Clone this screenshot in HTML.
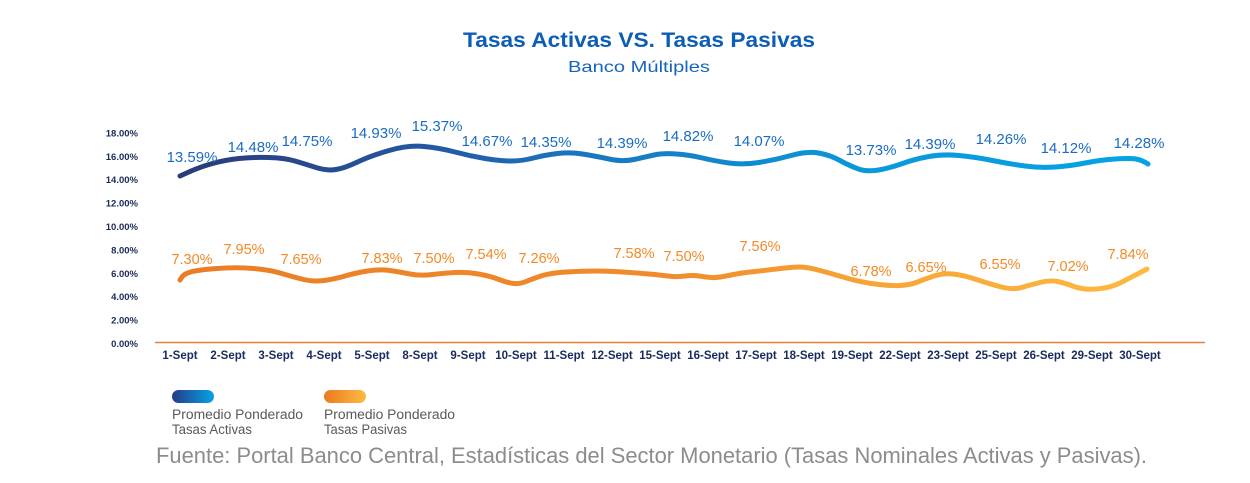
<!DOCTYPE html>
<html>
<head>
<meta charset="utf-8">
<style>
  html,body{margin:0;padding:0;background:#ffffff;}
  svg{display:block;}
  text{font-family:"Liberation Sans",Arial,sans-serif;}
</style>
</head>
<body>
<svg width="1250" height="483" viewBox="0 0 1250 483" xmlns="http://www.w3.org/2000/svg">
  <defs>
    <linearGradient id="gb" gradientUnits="userSpaceOnUse" x1="180" y1="0" x2="1148" y2="0">
      <stop offset="0" stop-color="#2a3b7a"/>
      <stop offset="0.25" stop-color="#2457a0"/>
      <stop offset="0.4" stop-color="#1a74bd"/>
      <stop offset="0.7" stop-color="#0a98da"/>
      <stop offset="1" stop-color="#05a3e4"/>
    </linearGradient>
    <linearGradient id="go" gradientUnits="userSpaceOnUse" x1="180" y1="0" x2="1147" y2="0">
      <stop offset="0" stop-color="#eb7d25"/>
      <stop offset="0.5" stop-color="#f08b2b"/>
      <stop offset="0.72" stop-color="#f7a535"/>
      <stop offset="1" stop-color="#fdb940"/>
    </linearGradient>
    <linearGradient id="lb" x1="0" y1="0" x2="1" y2="0">
      <stop offset="0" stop-color="#243c88"/>
      <stop offset="1" stop-color="#06a3e6"/>
    </linearGradient>
    <linearGradient id="lo" x1="0" y1="0" x2="1" y2="0">
      <stop offset="0" stop-color="#eb7a22"/>
      <stop offset="1" stop-color="#fdbb42"/>
    </linearGradient>
  </defs>

  <!-- Title -->
  <text x="639" y="47" text-anchor="middle" font-size="21" font-weight="bold" fill="#0b5db5" textLength="352" lengthAdjust="spacingAndGlyphs">Tasas Activas VS. Tasas Pasivas</text>
  <text x="639" y="72" text-anchor="middle" font-size="16" fill="#1565c0" textLength="142" lengthAdjust="spacingAndGlyphs">Banco Múltiples</text>

  <!-- Y axis labels -->
  <g font-size="9.5" font-weight="bold" fill="#1b2a5a" text-anchor="end">
    <text x="138" y="136.5">18.00%</text>
    <text x="138" y="160">16.00%</text>
    <text x="138" y="183">14.00%</text>
    <text x="138" y="206.5">12.00%</text>
    <text x="138" y="230">10.00%</text>
    <text x="138" y="253.5">8.00%</text>
    <text x="138" y="277">6.00%</text>
    <text x="138" y="300">4.00%</text>
    <text x="138" y="323.5">2.00%</text>
    <text x="138" y="347">0.00%</text>
  </g>

  <!-- X axis line -->
  <line x1="155" y1="342.5" x2="1205" y2="342.5" stroke="#ed7d31" stroke-width="1.5"/>

  <!-- X labels -->
  <g font-size="11.5" font-weight="bold" fill="#1b2a5a" text-anchor="middle">
    <text x="180" y="359">1-Sept</text>
    <text x="228" y="359">2-Sept</text>
    <text x="276" y="359">3-Sept</text>
    <text x="324" y="359">4-Sept</text>
    <text x="372" y="359">5-Sept</text>
    <text x="420" y="359">8-Sept</text>
    <text x="468" y="359">9-Sept</text>
    <text x="516" y="359">10-Sept</text>
    <text x="564" y="359">11-Sept</text>
    <text x="612" y="359">12-Sept</text>
    <text x="660" y="359">15-Sept</text>
    <text x="708" y="359">16-Sept</text>
    <text x="756" y="359">17-Sept</text>
    <text x="804" y="359">18-Sept</text>
    <text x="852" y="359">19-Sept</text>
    <text x="900" y="359">22-Sept</text>
    <text x="948" y="359">23-Sept</text>
    <text x="996" y="359">25-Sept</text>
    <text x="1044" y="359">26-Sept</text>
    <text x="1092" y="359">29-Sept</text>
    <text x="1140" y="359">30-Sept</text>
  </g>

  <!-- Blue line -->
  <path fill="none" stroke="url(#gb)" stroke-width="5" stroke-linecap="round" stroke-linejoin="round"
    d="M180,176 L190,171.5 Q200,167 212.5,163.5 Q225,160 239,158.5 Q253,157 269,157.5 Q285,158 295,161 Q305,164 316,167.5 Q327,171 336,169.5 Q345,168 357.5,162 Q370,156 389,150.5 Q408,145 424,146.5 Q440,148 455,152 Q470,156 485,158.5 Q500,161 511,161 Q522,161 533.5,158 Q545,155 557.5,153.5 Q570,152 582.5,154 Q595,156 609,159 Q623,162 634,159.5 Q645,157 654,155 Q663,153 676.5,154 Q690,155 702.5,158 Q715,161 729,163 Q743,165 759,162.5 Q775,160 791,155.5 Q807,151 818.5,153 Q830,155 840,160.5 Q850,166 858.5,169 Q867,172 878.5,170 Q890,168 902.5,163.5 Q915,159 929,156.5 Q943,154 959,155.5 Q975,157 992.5,160.5 Q1010,164 1025,166 Q1040,168 1055,167 Q1070,166 1085,163 Q1100,160 1115,159 Q1130,158 1136,159 Q1142,160 1148,164"/>

  <!-- Orange line -->
  <path fill="none" stroke="url(#go)" stroke-width="5" stroke-linecap="round" stroke-linejoin="round"
    d="M180,280 L182,277 Q184,274 190.5,272 Q197,270 217,268.5 Q237,267 253.5,268.5 Q270,270 280,273 Q290,276 301.5,279 Q313,282 324,280.5 Q335,279 345,276 Q355,273 367.5,271 Q380,269 390,270.5 Q400,272 410,274 Q420,276 432.5,274.5 Q445,273 456,272.5 Q467,272 478.5,274 Q490,276 499,279.5 Q508,283 514,283.5 Q520,284 526,281.5 Q532,279 541,276 Q550,273 566.5,272 Q583,271 596.5,271 Q610,271 630,272.5 Q650,274 659,275 Q668,276 672.5,276.5 Q677,277 685,276 Q693,275 699,276 Q705,277 711,277.5 Q717,278 728.5,275.5 Q740,273 750,272 Q760,271 776.5,269 Q793,267 800,267 Q807,267 820,270.5 Q833,274 846.5,278 Q860,282 875,284 Q890,286 900,285.5 Q910,285 917.5,282 Q925,279 934,276 Q943,273 953,274 Q963,275 976.5,279.5 Q990,284 1001.5,287 Q1013,290 1021.5,287.5 Q1030,285 1040,282.5 Q1050,280 1057.5,281.5 Q1065,283 1074,286.5 Q1083,290 1096.5,289 Q1110,288 1120,283 Q1130,278 1147,269"/>

  <!-- Blue data labels -->
  <g font-size="15" fill="#1a6cc2" text-anchor="middle">
    <text x="192" y="162">13.59%</text>
    <text x="253" y="152">14.48%</text>
    <text x="307" y="146">14.75%</text>
    <text x="376" y="138">14.93%</text>
    <text x="437" y="131">15.37%</text>
    <text x="487" y="146">14.67%</text>
    <text x="546" y="147">14.35%</text>
    <text x="622" y="148">14.39%</text>
    <text x="688" y="141">14.82%</text>
    <text x="759" y="146">14.07%</text>
    <text x="871" y="155">13.73%</text>
    <text x="930" y="149">14.39%</text>
    <text x="1001" y="144">14.26%</text>
    <text x="1066" y="153">14.12%</text>
    <text x="1139" y="148">14.28%</text>
  </g>

  <!-- Orange data labels -->
  <g font-size="14.5" fill="#f28a25" text-anchor="middle">
    <text x="192" y="264">7.30%</text>
    <text x="244" y="254">7.95%</text>
    <text x="301" y="264">7.65%</text>
    <text x="382" y="263">7.83%</text>
    <text x="434" y="263">7.50%</text>
    <text x="486" y="259">7.54%</text>
    <text x="539" y="263">7.26%</text>
    <text x="634" y="258">7.58%</text>
    <text x="684" y="261">7.50%</text>
    <text x="760" y="251">7.56%</text>
    <text x="871" y="276">6.78%</text>
    <text x="926" y="272">6.65%</text>
    <text x="1000" y="269">6.55%</text>
    <text x="1068" y="271">7.02%</text>
    <text x="1128" y="259">7.84%</text>
  </g>

  <!-- Legend -->
  <rect x="172" y="390" width="42" height="13" rx="6.5" ry="6.5" fill="url(#lb)"/>
  <rect x="324" y="390" width="42" height="13" rx="6.5" ry="6.5" fill="url(#lo)"/>
  <g font-size="13.5" fill="#595959">
    <text x="172" y="419" textLength="131" lengthAdjust="spacingAndGlyphs">Promedio Ponderado</text>
    <text x="172" y="434" textLength="80" lengthAdjust="spacingAndGlyphs">Tasas Activas</text>
    <text x="324" y="419" textLength="131" lengthAdjust="spacingAndGlyphs">Promedio Ponderado</text>
    <text x="324" y="434" textLength="83" lengthAdjust="spacingAndGlyphs">Tasas Pasivas</text>
  </g>

  <!-- Source -->
  <text x="156" y="463" font-size="22" fill="#8c8c8c" textLength="991" lengthAdjust="spacingAndGlyphs">Fuente: Portal Banco Central, Estadísticas del Sector Monetario (Tasas Nominales Activas y Pasivas).</text>
</svg>
</body>
</html>
